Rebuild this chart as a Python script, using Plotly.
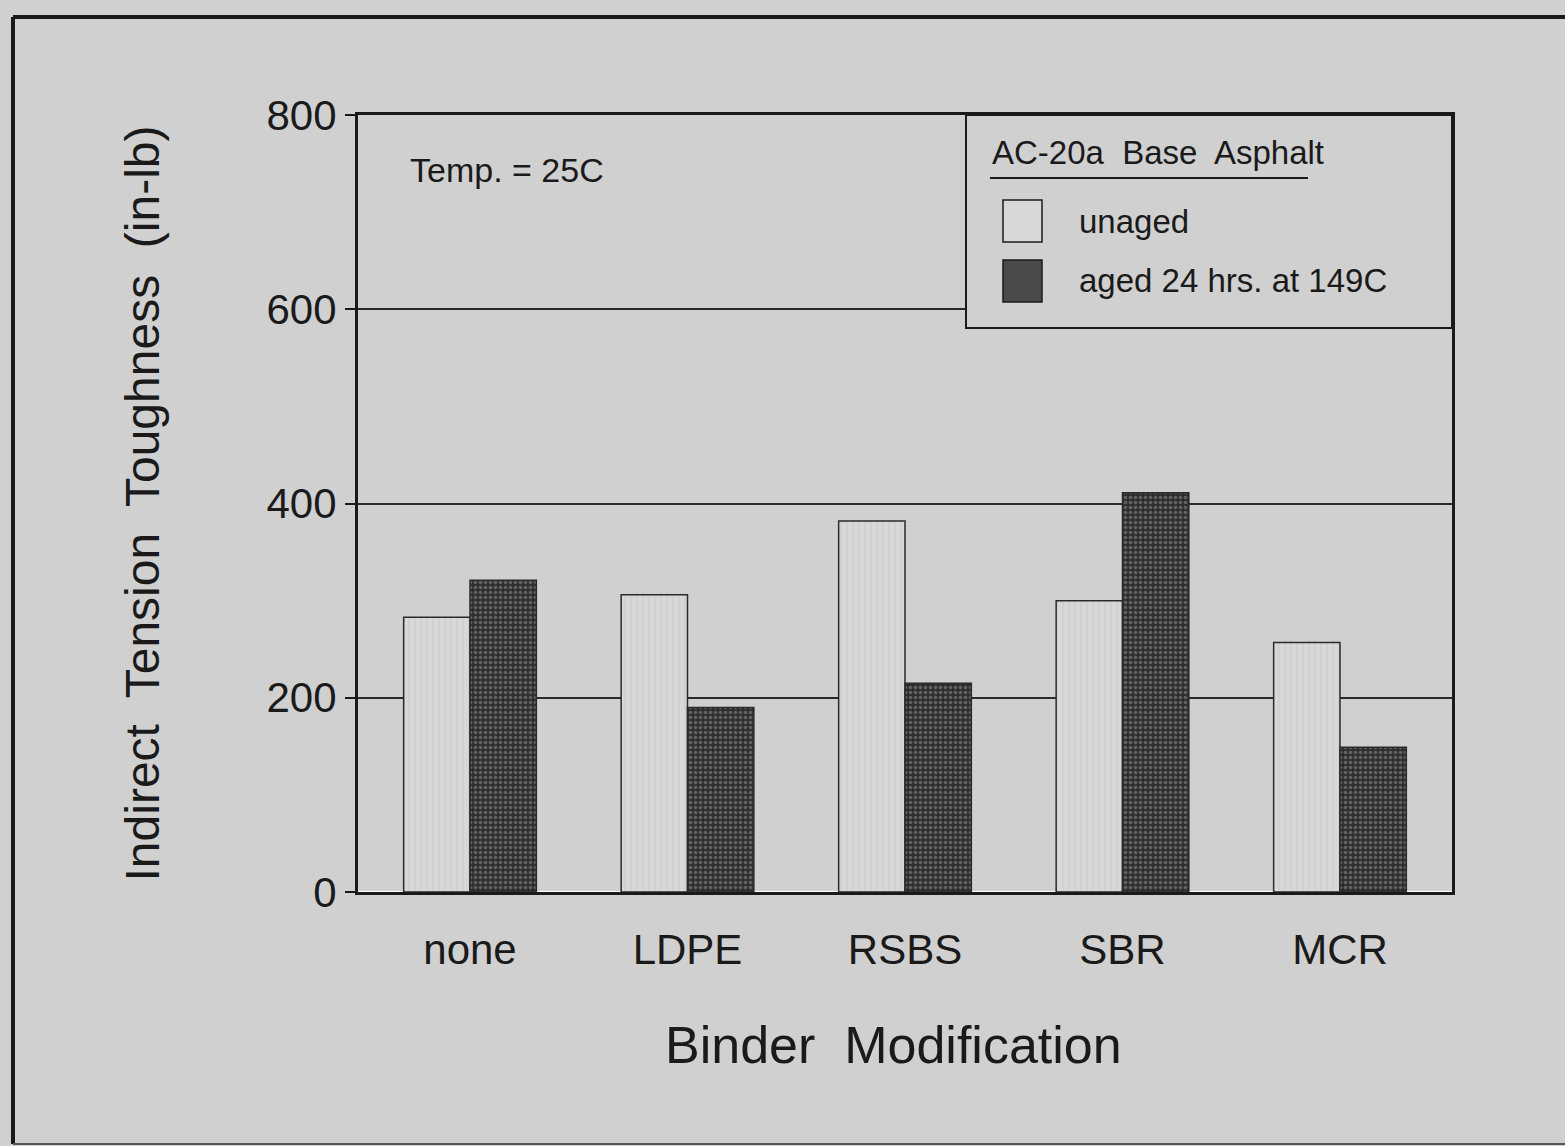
import plotly.graph_objects as go

categories = ["none", "LDPE", "RSBS", "SBR", "MCR"]
unaged = [283, 306, 382, 300, 257]
aged = [321, 190, 215, 411, 149]
series_names = ["unaged", "aged 24 hrs. at 149C"]
y_ticks = [0, 200, 400, 600, 800]

BG = "#d0d0d0"
FONT = "Liberation Sans, Arial, sans-serif"
INK = "#1a1a1a"

fig = go.Figure()
fig.add_trace(go.Bar(
    x=categories, y=unaged, name=series_names[0],
    marker=dict(color="#d6d6d6", line=dict(color="#2a2a2a", width=1.5),
                pattern=dict(shape="|", fgcolor="#c6c6c6", bgcolor="#d8d8d8", size=6, solidity=0.25)),
    showlegend=False,
))
fig.add_trace(go.Bar(
    x=categories, y=aged, name=series_names[1],
    marker=dict(color="#4a4a4a", line=dict(color="#2a2a2a", width=1.5),
                pattern=dict(shape=".", fgcolor="#959595", bgcolor="#2e2e2e", size=5, solidity=0.4)),
    showlegend=False,
))

W, H = 1565, 1146
L, R, T, B = 358, 1452, 115, 892


def px(x):
    return (x - L) / (R - L)


def py(y):
    return (B - y) / (B - T)


shapes = []
# outer frame
shapes.append(dict(type="line", xref="paper", yref="paper", x0=px(13), x1=px(13), y0=py(1144), y1=py(17),
                   line=dict(color=INK, width=4)))
shapes.append(dict(type="line", xref="paper", yref="paper", x0=px(13), x1=px(1565), y0=py(17), y1=py(17),
                   line=dict(color=INK, width=4)))
shapes.append(dict(type="line", xref="paper", yref="paper", x0=px(13), x1=px(1565), y0=py(1144), y1=py(1144),
                   line=dict(color="#555555", width=2)))
# legend box
shapes.append(dict(type="rect", xref="paper", yref="paper", x0=px(966), x1=1.0, y0=py(328), y1=1.0,
                   line=dict(color=INK, width=2), fillcolor=BG, layer="above"))
shapes.append(dict(type="line", xref="paper", yref="paper", x0=px(990), x1=px(1308), y0=py(178), y1=py(178),
                   line=dict(color=INK, width=2)))
shapes.append(dict(type="rect", xref="paper", yref="paper", x0=px(1003), x1=px(1042), y0=py(242), y1=py(200),
                   line=dict(color=INK, width=1.5), fillcolor="#d8d8d8", layer="above"))
shapes.append(dict(type="rect", xref="paper", yref="paper", x0=px(1003), x1=px(1042), y0=py(302), y1=py(260),
                   line=dict(color=INK, width=1.5), fillcolor="#4a4a4a", layer="above"))

annotations = [
    dict(text="AC-20a  Base  Asphalt", xref="paper", yref="paper", x=px(990), y=py(152),
         xanchor="left", yanchor="middle", showarrow=False, font=dict(size=33, color=INK, family=FONT)),
    dict(text=series_names[0], xref="paper", yref="paper", x=px(1077), y=py(221),
         xanchor="left", yanchor="middle", showarrow=False, font=dict(size=33, color=INK, family=FONT)),
    dict(text=series_names[1], xref="paper", yref="paper", x=px(1077), y=py(280),
         xanchor="left", yanchor="middle", showarrow=False, font=dict(size=33, color=INK, family=FONT)),
    dict(text="Temp. = 25C", xref="paper", yref="paper", x=px(408), y=py(170),
         xanchor="left", yanchor="middle", showarrow=False, font=dict(size=34, color=INK, family=FONT)),
    dict(text="Binder  Modification", xref="paper", yref="paper", x=px(893), y=py(1045),
         xanchor="center", yanchor="middle", showarrow=False, font=dict(size=52, color=INK, family=FONT)),
]

fig.update_layout(
    width=W, height=H,
    margin=dict(l=L, r=W - R, t=T, b=H - B, autoexpand=False),
    paper_bgcolor=BG, plot_bgcolor=BG,
    barmode="group", bargap=0.39, bargroupgap=0.0,
    font=dict(family=FONT, color=INK),
    shapes=shapes, annotations=annotations,
    showlegend=False,
)
fig.update_xaxes(
    range=[-0.515, 4.515], showgrid=False,
    showline=True, linecolor=INK, linewidth=3, mirror=True,
    ticks="", tickfont=dict(size=42, family=FONT, color=INK), ticklabelstandoff=19,
)
fig.update_yaxes(
    range=[0, 800], tickvals=y_ticks,
    showgrid=True, gridcolor="#2a2a2a", gridwidth=2,
    showline=True, linecolor=INK, linewidth=3, mirror=True,
    ticks="outside", ticklen=10, tickwidth=2, tickcolor=INK,
    tickfont=dict(size=42, family=FONT, color=INK),
    title=dict(text="Indirect  Tension  Toughness  (in-lb)", font=dict(size=48, family=FONT, color=INK), standoff=92),
)

fig.write_html(
    "out.html",
    config={"displayModeBar": False},
    post_script="document.body.style.margin='0';document.body.style.overflow='hidden';"
                "document.body.style.background='#d0d0d0';",
)
